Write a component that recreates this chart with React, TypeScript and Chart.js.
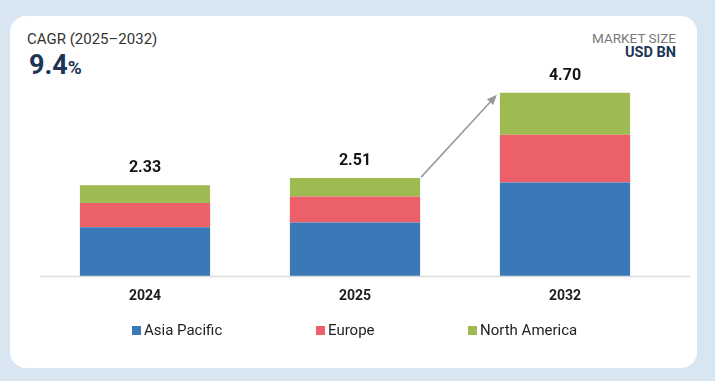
import React, { useEffect, useRef } from "react";
import { Chart, registerables } from "chart.js";

Chart.register(...registerables);

const categories = ["2024", "2025", "2032"];
const asiaPacific = [1.25, 1.37, 2.4];
const europe = [0.62, 0.67, 1.22];
const northAmerica = [0.46, 0.47, 1.08];
const totals = ["2.33", "2.51", "4.70"];
const seriesNames = ["Asia Pacific", "Europe", "North America"];
const seriesColors = ["#3a78b8", "#ec6069", "#9dbb52"];

const FONT = "Roboto, 'Noto Sans', Arial, sans-serif";

export default function App() {
  const ref = useRef<HTMLCanvasElement | null>(null);

  useEffect(() => {
    if (!ref.current) return;
    const overlay = {
      id: "overlay",
      afterDatasetsDraw(chart: any) {
        const ctx = chart.ctx;
        const xs = chart.scales.x;
        const area = chart.chartArea;
        ctx.save();
        // baseline
        ctx.strokeStyle = "#dcdcdc";
        ctx.lineWidth = 1.5;
        ctx.beginPath();
        ctx.moveTo(40, area.bottom + 0.5);
        ctx.lineTo(690, area.bottom + 0.5);
        ctx.stroke();
        // totals
        const topMeta = chart.getDatasetMeta(2);
        ctx.fillStyle = "#151515";
        ctx.font = `bold 16px ${FONT}`;
        ctx.textAlign = "center";
        ctx.textBaseline = "middle";
        topMeta.data.forEach((el: any, i: number) => {
          ctx.fillText(totals[i], el.x, el.y - 17);
        });
        // category labels
        ctx.font = `bold 14px ${FONT}`;
        ctx.fillStyle = "#1e1e1e";
        categories.forEach((c, i) => {
          ctx.fillText(c, xs.getPixelForValue(i), area.bottom + 20);
        });
        // arrow
        const b1 = topMeta.data[1];
        const b2 = topMeta.data[2];
        const x1 = b1.x + b1.width / 2 + 1;
        const y1 = b1.y - 1;
        const x2 = b2.x - b2.width / 2 - 3;
        const y2 = b2.y + 2;
        ctx.strokeStyle = "#9a9a9a";
        ctx.fillStyle = "#9a9a9a";
        ctx.lineWidth = 1.6;
        const ang = Math.atan2(y2 - y1, x2 - x1);
        const hl = 11;
        ctx.beginPath();
        ctx.moveTo(x1, y1);
        ctx.lineTo(x2 - Math.cos(ang) * hl * 0.8, y2 - Math.sin(ang) * hl * 0.8);
        ctx.stroke();
        ctx.beginPath();
        ctx.moveTo(x2, y2);
        ctx.lineTo(x2 - hl * Math.cos(ang - 0.4), y2 - hl * Math.sin(ang - 0.4));
        ctx.lineTo(x2 - hl * Math.cos(ang + 0.4), y2 - hl * Math.sin(ang + 0.4));
        ctx.closePath();
        ctx.fill();
        ctx.restore();
      },
    };
    const chart = new Chart(ref.current, {
      type: "bar",
      data: {
        labels: categories,
        datasets: [
          { label: seriesNames[0], data: asiaPacific, backgroundColor: seriesColors[0] },
          { label: seriesNames[1], data: europe, backgroundColor: seriesColors[1] },
          { label: seriesNames[2], data: northAmerica, backgroundColor: seriesColors[2] },
        ],
      },
      options: {
        animation: false,
        responsive: false,
        maintainAspectRatio: false,
        layout: { padding: { left: 40, right: 45, top: 81, bottom: 105 } },
        datasets: { bar: { categoryPercentage: 1, barPercentage: 0.62 } },
        scales: {
          x: { stacked: true, display: false },
          y: { stacked: true, display: false, min: 0, max: 5 },
        },
        plugins: { legend: { display: false }, tooltip: { enabled: false } },
      },
      plugins: [overlay],
    });
    return () => chart.destroy();
  }, []);

  const legendPos = [132, 316, 468];

  return (
    <div
      style={{
        position: "fixed",
        left: 0,
        top: 0,
        width: 715,
        height: 381,
        background: "#d8e6f2",
        fontFamily: FONT,
        overflow: "hidden",
      }}
    >
      <div
        style={{
          position: "absolute",
          left: 10,
          top: 16,
          width: 687,
          height: 352,
          background: "#ffffff",
          borderRadius: 16,
        }}
      />
      <div style={{ position: "absolute", left: 27, top: 30, fontSize: 15, color: "#333" }}>
        CAGR (2025–2032)
      </div>
      <div
        style={{
          position: "absolute",
          left: 29,
          top: 50,
          fontSize: 27,
          fontWeight: 700,
          color: "#1d3557",
          lineHeight: "30px",
        }}
      >
        9.4<span style={{ fontSize: 19 }}>%</span>
      </div>
      <div
        style={{
          position: "absolute",
          right: 715 - 676,
          top: 30,
          fontSize: 13.5,
          color: "#7a7a7a",
          textAlign: "right",
        }}
      >
        MARKET SIZE
      </div>
      <div
        style={{
          position: "absolute",
          right: 715 - 676,
          top: 44,
          fontSize: 14.5,
          fontWeight: 700,
          color: "#1d3557",
          textAlign: "right",
        }}
      >
        USD BN
      </div>
      <canvas
        ref={ref}
        width={715}
        height={381}
        style={{ position: "absolute", left: 0, top: 0, width: 715, height: 381 }}
      />
      {seriesNames.map((n, i) => (
        <div
          key={n}
          style={{
            position: "absolute",
            left: legendPos[i],
            top: 321,
            display: "flex",
            alignItems: "center",
            fontSize: 15,
            color: "#222",
          }}
        >
          <span
            style={{
              display: "inline-block",
              width: 9,
              height: 9,
              background: seriesColors[i],
              marginRight: 3,
            }}
          />
          {n}
        </div>
      ))}
    </div>
  );
}
